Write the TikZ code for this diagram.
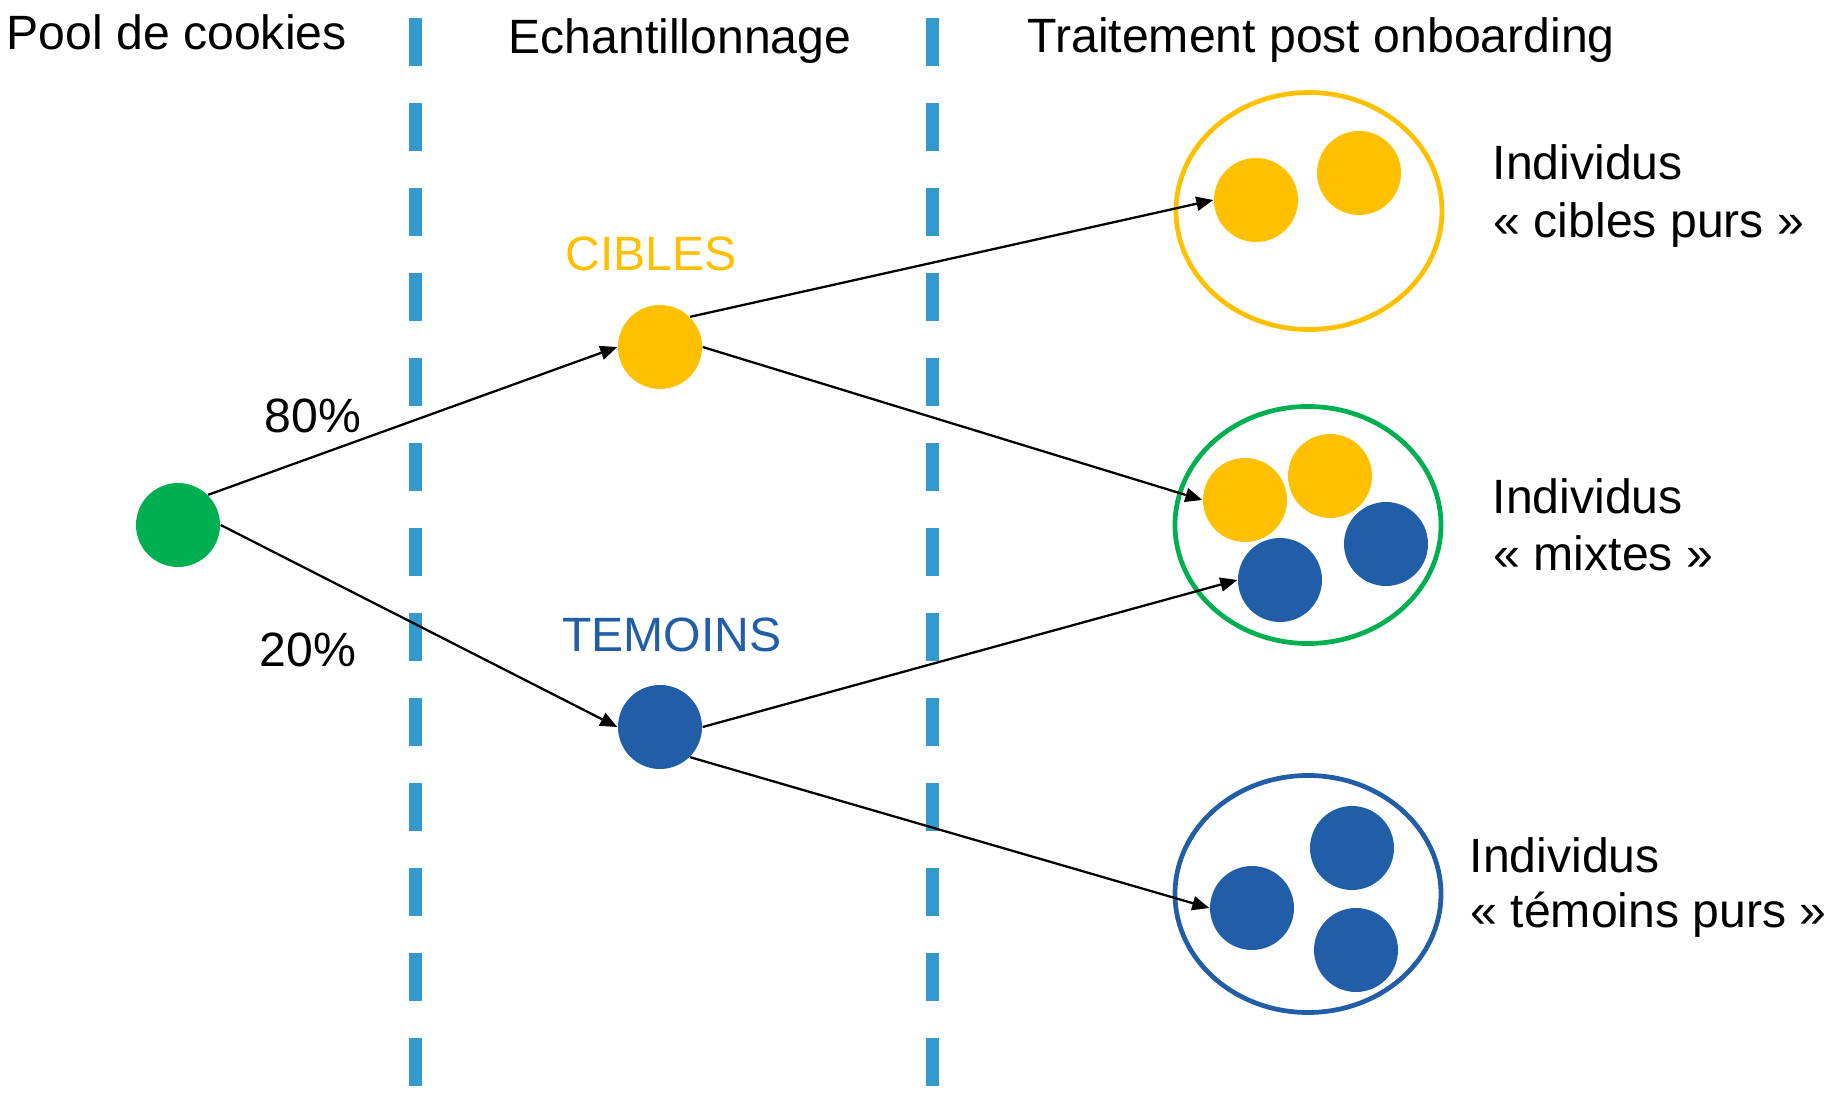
\documentclass[tikz,border=0pt]{standalone}
\usepackage{fontspec}
\setmainfont{Liberation Sans}
\usetikzlibrary{shapes.geometric,arrows.meta,positioning}

\definecolor{jaune}{RGB}{255,192,0}
\definecolor{vert}{RGB}{0,176,80}
\definecolor{bleu}{RGB}{33,94,167}
\definecolor{bleuclair}{RGB}{52,153,204}

\begin{document}
\begin{tikzpicture}[
  x=0.1mm, y=-0.1mm,
  font=\fontsize{13.7}{16}\selectfont,
  dot/.style={circle, minimum size=8.4mm, inner sep=0pt},
  groupe/.style={ellipse, draw, line width=1.35pt, minimum width=26.6mm, minimum height=23.7mm, inner sep=0pt},
  txt/.style={inner sep=0pt, anchor=base west},
  lbl/.style={inner sep=0pt, anchor=base},
  fleche/.style={->, >={Triangle[length=1.7mm, width=1.4mm]}, line width=0.65pt},
  separ/.style={bleuclair, line width=1.3mm, dash pattern=on 4.8mm off 3.7mm}
]
  \useasboundingbox (0,0) rectangle (1836,1096);

  % separateurs
  \coordinate (s1h) at (415,18);
  \coordinate (s1b) at (415,1090);
  \coordinate (s2h) at (932,18);
  \coordinate (s2b) at (932,1090);
  \draw[separ] (s1h) -- (s1b);
  \draw[separ] (s2h) -- (s2b);

  % titres
  \node[txt] (titre1) at (6,50) {Pool de cookies};
  \node[txt] (titre2) at (508,54) {Echantillonnage};
  \node[txt] (titre3) at (1027,53) {Traitement post onboarding};

  % echantillonnage
  \node[dot, fill=vert] (pool) at (178,525) {};
  \node[dot, fill=jaune] (cibles) at (660,347) {};
  \node[dot, fill=bleu] (temoins) at (660,727) {};
  \node[lbl, text=jaune, above=3.3mm of cibles, xshift=-0.9mm] (lcibles) {CIBLES};
  \node[lbl, text=bleu, above=3.2mm of temoins, xshift=1.2mm] (ltemoins) {TEMOINS};
  \node[lbl] (p80) at (313,432) {80\%};
  \node[lbl] (p20) at (308,666) {20\%};

  % groupes
  \node[groupe, draw=jaune] (g1) at (1309,211) {};
  \node[groupe, draw=vert] (g2) at (1308,525) {};
  \node[groupe, draw=bleu] (g3) at (1308,894) {};

  \node[dot, fill=jaune] (c11) at (1256,200) {};
  \node[dot, fill=jaune] (c12) at (1359,173) {};

  \node[dot, fill=jaune] (y21) at (1245,500) {};
  \node[dot, fill=jaune] (y22) at (1330,476) {};
  \node[dot, fill=bleu] (b21) at (1280,580) {};
  \node[dot, fill=bleu] (b22) at (1386,544) {};

  \node[dot, fill=bleu] (b31) at (1252,908) {};
  \node[dot, fill=bleu] (b32) at (1352,848) {};
  \node[dot, fill=bleu] (b33) at (1356,950) {};

  \node[txt] (ind1) at (1492,180) {Individus};
  \node[txt] (ind1b) at (1493,238) {« cibles purs »};
  \node[txt] (ind2) at (1492,514) {Individus};
  \node[txt] (ind2b) at (1493,570) {« mixtes »};
  \node[txt] (ind3) at (1469,872) {Individus};
  \node[txt] (ind3b) at (1470,927) {« témoins purs »};

  \draw[fleche] (pool.45) -- (cibles.west);
  \draw[fleche] (pool.east) -- (temoins.west);
  \draw[fleche] (cibles.45) -- (c11.west);
  \draw[fleche] (cibles.east) -- (y21.west);
  \draw[fleche] (temoins.east) -- (b21.west);
  \draw[fleche] (temoins.-45) -- (b31.west);
\end{tikzpicture}
\end{document}
